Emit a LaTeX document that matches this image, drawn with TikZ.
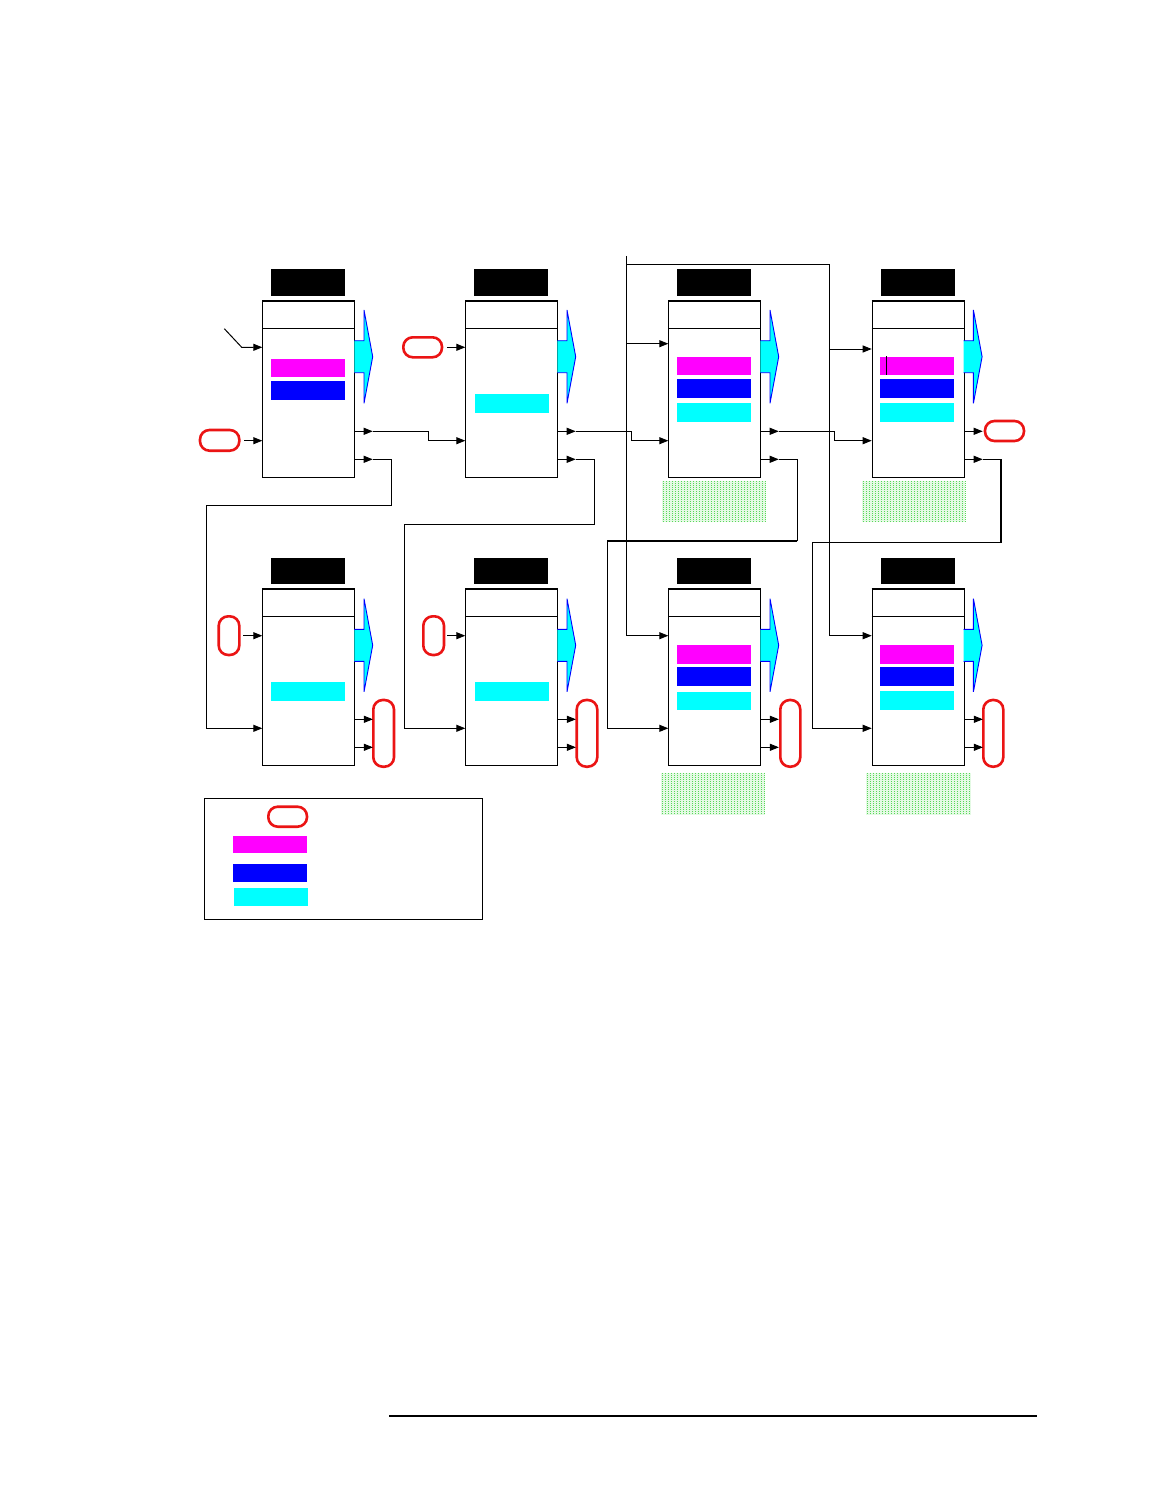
\documentclass[tikz,border=0pt]{standalone}
\usetikzlibrary{arrows.meta}
\definecolor{cyanfill}{RGB}{0,255,255}
\definecolor{magfill}{RGB}{255,0,255}
\definecolor{bluefill}{RGB}{0,0,255}
\definecolor{ovalred}{RGB}{235,20,20}
\definecolor{dotgreen}{RGB}{90,215,90}
\definecolor{palegreen}{RGB}{228,250,228}
\tikzset{
  boxframe/.style={draw=black,line width=1.1pt,fill=white},
  hdr/.style={fill=black,draw=none},
  magbar/.style={fill=magfill,draw=none},
  bluebar/.style={fill=bluefill,draw=none},
  cyanbar/.style={fill=cyanfill,draw=none},
  bigarrow/.style={fill=cyanfill,draw=bluefill,line width=0.9pt,line join=miter},
  conn/.style={draw=black,line width=1pt},
  thickconn/.style={draw=black,line width=1.7pt},
  tip/.style={-{Triangle[length=9pt,width=7pt]}},
  oval/.style={draw=ovalred,line width=2.6pt,rounded corners=9.5pt},
  dotcol/.style={draw=dotgreen,line width=0.9pt,dash pattern=on 1pt off 1pt},
}
\newcommand{\mybox}[4]{% #1 name, #2 left, #3 top, #4 bottom
  \node[hdr,minimum width=74pt,minimum height=26.5pt,inner sep=0pt,anchor=south west] (#1h) at (#2+8.7,#3-5) {};
  \node[boxframe,minimum width=92pt,minimum height=#4-#3,inner sep=0pt,anchor=north west] (#1) at (#2,#3) {};
  \draw[line width=1.7pt] (#1.north west) -- (#1.north east);
  \draw[line width=1pt] ([yshift=-27.6pt]#1.north west) -- ([yshift=-27.6pt]#1.north east);
  \draw[bigarrow] (#2+92,#3+40) -- (#2+101.7,#3+40) -- (#2+101.7,#3+9.3) -- (#2+110.4,#3+56) -- (#2+101.7,#3+102.6) -- (#2+101.7,#3+72) -- (#2+92,#3+72);
}
\newcommand{\mybar}[5]{% style, left, top, bottom, name
  \node[#1,minimum width=74pt,minimum height=#4-#3,inner sep=0pt,anchor=north west] (#5) at (#2+8.7,#3) {};
}
\newcommand{\dotarea}[4]{% x1 y1 x2 y2
  \fill[palegreen] (#1,#2) rectangle (#3,#4);
  \foreach \xx in {#1,...,#3}{
    \pgfmathtruncatemacro{\m}{mod(round(\xx-#1),3)}
    \ifnum\m=1 \draw[dotcol] (\xx,#2) -- (\xx,#4);\fi
  }
}
\begin{document}
\begin{tikzpicture}[x=1pt,y=-1pt]
\useasboundingbox (0,0) rectangle (1164,1506);
\fill[white] (0,0) rectangle (1164,1506);

% green dotted areas
\dotarea{662}{481}{766}{522}
\dotarea{862}{481}{965}{522}
\dotarea{661}{773}{765}{815}
\dotarea{866}{773}{971}{815}

% boxes
\mybox{b1}{262.3}{300.7}{477.3}
\mybox{b2}{465.3}{300.7}{477.3}
\mybox{b3}{668.3}{300.7}{477.3}
\mybox{b4}{871.7}{300.7}{477.3}
\mybox{b5}{262.3}{589.3}{765}
\mybox{b6}{465.3}{589.3}{765}
\mybox{b7}{668.3}{589.3}{765}
\mybox{b8}{871.7}{589.3}{765}

% bars
\mybar{magbar}{262.3}{359}{376.7}{m1}
\mybar{bluebar}{262.3}{381}{399.7}{u1}
\mybar{cyanbar}{466.3}{394}{413}{c2}
\mybar{magbar}{668.3}{357}{374.7}{m3}
\mybar{bluebar}{668.3}{379}{397.7}{u3}
\mybar{cyanbar}{668.3}{403}{422}{c3}
\mybar{magbar}{871.3}{357}{374.7}{m4}
\mybar{bluebar}{871.3}{379}{397.7}{u4}
\mybar{cyanbar}{871.3}{403}{422}{c4}
\draw[line width=1pt] (886.7,356) -- (886.7,374.7);
\mybar{cyanbar}{262.3}{682}{700.7}{c5}
\mybar{cyanbar}{466.3}{682}{700.7}{c6}
\mybar{magbar}{668.3}{645}{663.7}{m7}
\mybar{bluebar}{668.3}{667}{685.7}{u7}
\mybar{cyanbar}{668.3}{692}{710}{c7}
\mybar{magbar}{871.3}{645}{663.7}{m8}
\mybar{bluebar}{871.3}{667}{685.7}{u8}
\mybar{cyanbar}{871.3}{691}{710}{c8}

% red ovals (inputs)
\draw[oval] (200,430) rectangle (239.3,450.7);
\node[inner sep=0pt] (o1) at (239.3,440.7) {};
\draw[oval] (403.3,337.3) rectangle (442,357.3);
\node[inner sep=0pt] (o2) at (442,347.3) {};
\draw[oval] (218.7,616.3) rectangle (239.3,655);
\node[inner sep=0pt] (o5) at (239.3,635.7) {};
\draw[oval] (423.3,616.3) rectangle (444,655);
\node[inner sep=0pt] (o6) at (444,635.7) {};
% red ovals (outputs)
\draw[oval] (985,421) rectangle (1024,441);
\draw[oval] (373.3,700) rectangle (394,766.7);
\draw[oval] (576.7,700) rectangle (597.3,766.7);
\draw[oval] (780.3,700) rectangle (800.3,766.7);
\draw[oval] (983.3,700) rectangle (1003.3,766.7);

% coordinates of ports
\coordinate (b1in1) at (262.3,347.3);
\coordinate (b1in2) at (262.3,440.7);
\coordinate (b2in1) at (465.3,347.3);
\coordinate (b2in2) at (465.3,440.7);
\coordinate (b3in1) at (668.3,343.7);
\coordinate (b3in2) at (668.3,440.7);
\coordinate (b4in1) at (871.7,349);
\coordinate (b4in2) at (871.7,440.7);
\foreach \b/\x in {b5/262.3,b6/465.3,b7/668.3,b8/871.7}{
  \coordinate (\b in1) at (\x,635.7);
  \coordinate (\b in2) at (\x,728.3);
}
\foreach \b/\x in {b1/354.3,b2/557.3,b3/760.3,b4/964.3}{
  \coordinate (\b o1) at (\x,431.3);
  \coordinate (\b o2) at (\x,459.3);
  \coordinate (\b t1) at (\x+18.4,431.3);
  \coordinate (\b t2) at (\x+18.4,459.3);
  \draw[conn,tip] (\b o1) -- (\b t1);
  \draw[conn,tip] (\b o2) -- (\b t2);
}
\foreach \b/\x in {b5/354.3,b6/557.3,b7/760.3,b8/964.3}{
  \coordinate (\b o1) at (\x,719.3);
  \coordinate (\b o2) at (\x,747.3);
  \draw[conn,tip] (\b o1) -- ++(18.6,0);
  \draw[conn,tip] (\b o2) -- ++(18.6,0);
}

% input arrows from ovals
\draw[conn,tip] (o1.east) ++(4,0) -- (b1in2);
\draw[conn,tip] (o2.east) ++(4.7,0) -- (b2in1);
\draw[conn,tip] (o5.east) ++(3,0) -- (b5in1);
\draw[conn,tip] (o6.east) ++(2.7,0) -- (b6in1);

% b1 upper input with slanted lead
\coordinate (lead) at (224.3,328.7);
\draw[conn,tip] (lead) -- (241.7,347.3) -- (b1in1);

% chain connectors
\draw[conn,tip] (b1t1) -- (428.3,431.3) -- (428.3,440.7) -- (b2in2);
\draw[conn,tip] (b1t2) -- (391.3,459.3) -- (391.3,505.3) -- (206.3,505.3) -- (206.3,728.3) -- (b5in2);
\draw[conn,tip] (b2t1) -- (631,431.3) -- (631,440.7) -- (b3in2);
\draw[conn,tip] (b2t2) -- (594.3,459.3) -- (594.3,524.3) -- (404.3,524.3) -- (404.3,728.3) -- (b6in2);
\draw[conn,tip] (b3t1) -- (834.3,431.3) -- (834.3,440.7) -- (b4in2);
\draw[conn] (b3t2) -- (797.3,459.3) -- (797.3,540.7);
\draw[thickconn] (797.3,540.7) -- (607.3,540.7);
\draw[conn,tip] (607.3,540.7) -- (607.3,728.3) -- (b7in2);
\draw[conn] (b4t2) -- (1000.7,459.3);
\draw[thickconn] (1000.7,459.3) -- (1000.7,542.7);
\draw[conn,tip] (1000.7,542.7) -- (812.3,542.7) -- (812.3,728.3) -- (b8in2);

% long vertical feeds
\coordinate (topfeed) at (626.3,256);
\draw[conn,tip] (topfeed) -- (626.3,635.7) -- (b7in1);
\draw[conn,tip] (626.3,343.7) -- (b3in1);
\draw[conn,tip] (626.3,264.3) -- (829.3,264.3) -- (829.3,635.7) -- (b8in1);
\draw[conn,tip] (829.3,349) -- (b4in1);

% legend
\node[draw=black,line width=1.1pt,minimum width=277.4pt,minimum height=121pt,inner sep=0pt,anchor=north west] (legend) at (204.3,798.3) {};
\draw[oval] (268.3,806.7) rectangle (307,826.7);
\fill[magfill] (233,836) rectangle (306.7,853.3);
\fill[bluefill] (233,864) rectangle (306.7,881.7);
\fill[cyanfill] (234,888) rectangle (308,905.7);

% footer rule
\coordinate (fl) at (389,1416);
\coordinate (fr) at (1037,1416);
\draw[line width=1.1pt] (fl) -- (fr);
\end{tikzpicture}
\end{document}
